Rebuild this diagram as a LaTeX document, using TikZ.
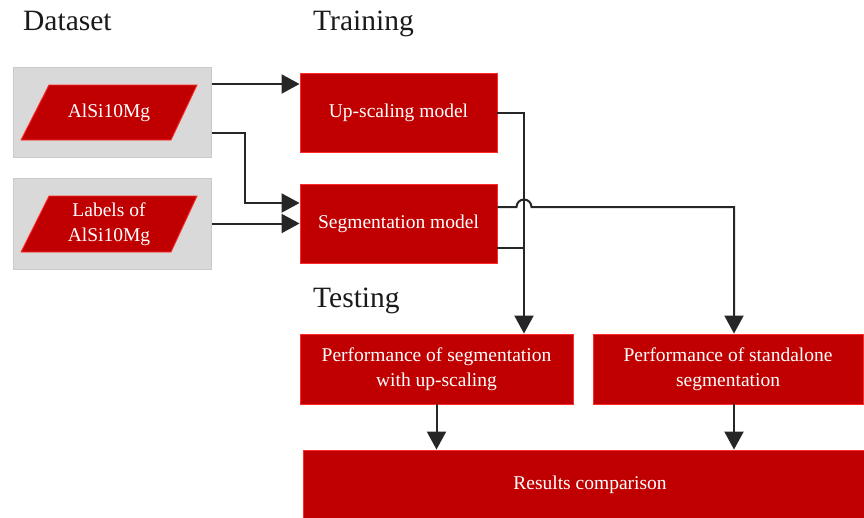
\documentclass[tikz,border=0pt]{standalone}
\usepackage{fontspec}
\setmainfont{Liberation Serif}
\newfontfamily\diagfont{Liberation Serif}
\usetikzlibrary{arrows.meta,calc}

\definecolor{boxred}{HTML}{C00000}
\definecolor{edgered}{HTML}{FF2A2A}
\definecolor{panelgray}{HTML}{D9D9D9}
\definecolor{paneledge}{HTML}{CACACA}
\definecolor{wire}{HTML}{262626}
\definecolor{heading}{HTML}{1A1A1A}

\tikzset{
  panel/.style={draw=paneledge, fill=panelgray, line width=1pt, inner sep=0pt},
  redbox/.style={draw=edgered, fill=boxred, line width=0.9pt, inner sep=0pt,
    text=white, align=center, font=\diagfont\fontsize{19.5}{25}\selectfont},
  paratext/.style={text=white, align=center, inner sep=0pt,
    font=\diagfont\fontsize{19.5}{25}\selectfont},
  stagetitle/.style={anchor=base west, inner sep=0pt, text=heading,
    font=\diagfont\fontsize{29.5}{35}\selectfont},
  arr/.style={draw=wire, line width=2pt, -{Triangle[length=18pt,width=19pt]}},
  wireline/.style={draw=wire, line width=2pt},
}

\begin{document}
\begin{tikzpicture}[x=1pt, y=-1pt]
  \clip (0,0) rectangle (864,517);
  \fill[white] (0,0) rectangle (864,517);

  % stage titles
  \node[stagetitle] (tdata)  at (23,30)  {Dataset};
  \node[stagetitle] (ttrain) at (313,30) {Training};
  \node[stagetitle] (ttest)  at (313,307) {Testing};

  % dataset panels
  \node[panel, minimum width=198pt, minimum height=90pt] (ds1) at (112,112) {};
  \node[panel, minimum width=198pt, minimum height=91pt] (ds2) at (112,223.5) {};

  % parallelogram inputs
  \filldraw[draw=edgered, fill=boxred, line width=0.9pt]
    (21,140) -- (171,140) -- (197,85) -- (49,85) -- cycle;
  \node[paratext] (in1) at (109,113) {AlSi10Mg};
  \filldraw[draw=edgered, fill=boxred, line width=0.9pt]
    (21,252) -- (171,252) -- (197,196) -- (49,196) -- cycle;
  \node[paratext] (in2) at (109,224) {Labels of\\AlSi10Mg};

  % training models
  \node[redbox, minimum width=197pt, minimum height=79pt] (up)  at (398.5,112.5) {Up-scaling model};
  \node[redbox, minimum width=197pt, minimum height=79pt] (seg) at (398.5,223.5) {Segmentation model};

  % testing results
  \node[redbox, minimum width=273pt, minimum height=70pt] (perf1) at (436.5,369)
    {Performance of segmentation\\with up-scaling};
  \node[redbox, minimum width=270pt, minimum height=70pt] (perf2) at (728,369)
    {Performance of standalone\\segmentation};
  \node[redbox, minimum width=574pt, minimum height=70pt] (res) at (590,485)
    {Results comparison};

  % dataset to training
  \draw[arr] ([yshift=28pt]ds1.east) -- ([yshift=28pt]ds1.east -| up.west);
  \draw[arr] ([yshift=-21pt]ds1.east) -- ++(33,0) |- ([yshift=20.5pt]seg.west);
  \draw[arr] (ds2.east) -- (seg.west);

  % training to testing
  \coordinate (jx) at ([xshift=87.5pt]perf1.north);
  \draw[arr] (up.east) -| (jx);
  \draw[wireline] ([yshift=-24.5pt]seg.east) -- ([yshift=-24.5pt]seg.east -| jx);
  \coordinate (hop) at ([yshift=16.5pt]seg.east -| jx);
  \coordinate (tx) at ([xshift=6pt]perf2.north);
  \draw[arr] ([yshift=16.5pt]seg.east) -- ([xshift=-7.5pt]hop)
    arc[start angle=180, end angle=0, radius=7.5pt] -- (hop -| tx) -- (tx);

  % testing to comparison
  \draw[arr] (perf1.south) -- (perf1.south |- res.north);
  \draw[arr] ([xshift=6pt]perf2.south) -- ([xshift=6pt]perf2.south |- res.north);
\end{tikzpicture}
\end{document}
